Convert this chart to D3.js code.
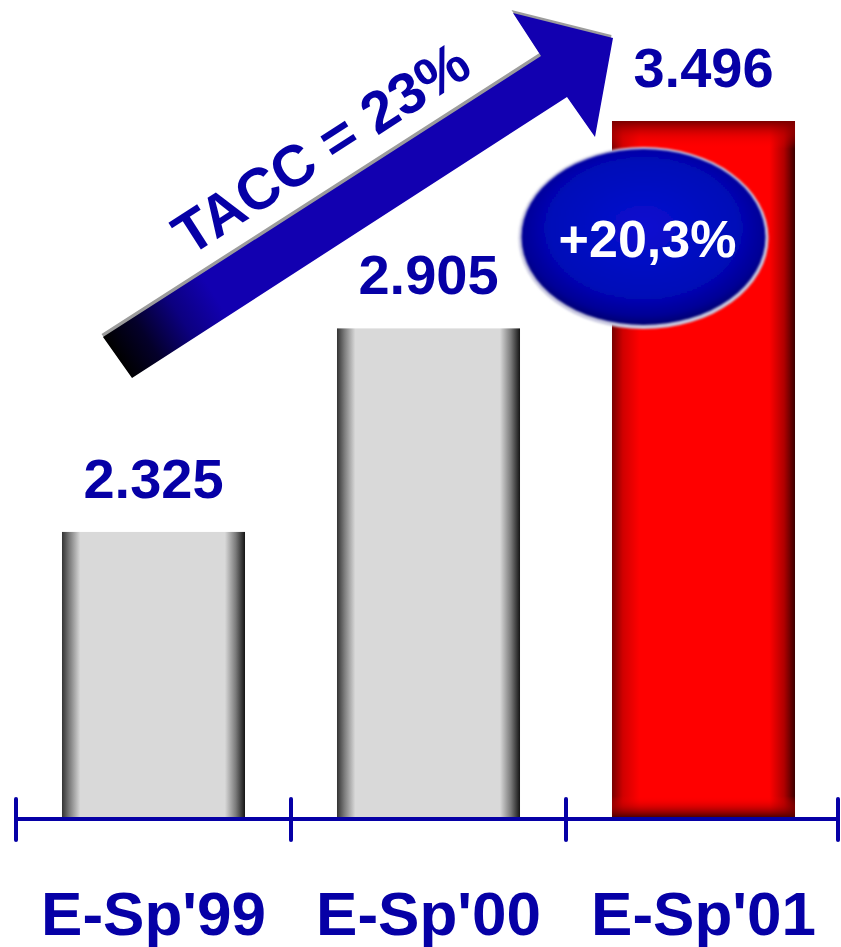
<!DOCTYPE html>
<html><head><meta charset="utf-8">
<script src="https://cdn.jsdelivr.net/npm/d3@7"></script>
<style>html,body{margin:0;padding:0;background:#fff;}svg{display:block;}</style>
</head><body>
<script>
const categories = ["E-Sp'99", "E-Sp'00", "E-Sp'01"];
const values = [2325, 2905, 3496];
const valueLabels = ["2.325", "2.905", "3.496"];
const highlight = [false, false, true];
const growthLabel = "+20,3%";
const cagrLabel = "TACC = 23%";

const W = 841, H = 947;
const svg = d3.select("body").append("svg").attr("width", W).attr("height", H);
const defs = svg.append("defs");
const font = "'Liberation Sans', Arial, sans-serif";
const navy = "#0600a6";

const x = d3.scaleBand().domain(categories).range([16, 841]).paddingInner(0.3345).paddingOuter(0.16725);
const y = d3.scaleLinear().domain([1507, 3496]).range([819, 121]);

// gradients
const gGray = defs.append("linearGradient").attr("id", "gray").attr("x1", 0).attr("x2", 1).attr("y1", 0).attr("y2", 0);
[[0, "#333333"], [0.04, "#7a7a7a"], [0.1, "#d9d9d9"], [0.89, "#d9d9d9"], [0.95, "#7a7a7a"], [1, "#141414"]]
  .forEach(([o, c]) => gGray.append("stop").attr("offset", o).attr("stop-color", c));
const gRed = defs.append("linearGradient").attr("id", "red").attr("x1", 0).attr("x2", 1).attr("y1", 0).attr("y2", 1e-6);
[[0, "#780000"], [0.06, "#d00000"], [0.15, "#ff0000"], [0.86, "#ff0000"], [0.94, "#b00000"], [1, "#3a0000"]]
  .forEach(([o, c]) => gRed.append("stop").attr("offset", o).attr("stop-color", c));
const gRedV = defs.append("linearGradient").attr("id", "redv").attr("x1", 0).attr("x2", 0).attr("y1", 0).attr("y2", 1);
[[0, "#7a0000", 1], [0.022, "#d00000", 0.45], [0.04, "#ff0000", 0], [0.97, "#ff0000", 0], [0.985, "#b00000", 0.5], [1, "#500000", 1]]
  .forEach(([o, c, a]) => gRedV.append("stop").attr("offset", o).attr("stop-color", c).attr("stop-opacity", a));

// bars
const base = y.range()[0] - 2;
const bars = svg.append("g");
bars.selectAll("rect.bar").data(values).join("rect").attr("class", "bar")
  .attr("x", (d, i) => x(categories[i])).attr("width", x.bandwidth())
  .attr("y", d => y(d)).attr("height", d => base - y(d))
  .attr("fill", (d, i) => highlight[i] ? "url(#red)" : "url(#gray)");
bars.selectAll("rect.ov").data(values.map((d, i) => ({ d, i })).filter(o => highlight[o.i])).join("rect").attr("class", "ov")
  .attr("x", o => x(categories[o.i])).attr("width", x.bandwidth())
  .attr("y", o => y(o.d)).attr("height", o => base - y(o.d))
  .attr("fill", "url(#redv)");

// value labels
svg.append("g").selectAll("text").data(values).join("text")
  .attr("x", (d, i) => x(categories[i]) + x.bandwidth() / 2)
  .attr("y", d => y(d) - 34)
  .attr("text-anchor", "middle").attr("font-family", font).attr("font-weight", "bold")
  .attr("font-size", 56).attr("fill", navy).text((d, i) => valueLabels[i]);

// axis
const axisY = y.range()[0];
const axisEnd = W - 3;
const ticks = d3.range(categories.length + 1).map(i => Math.min(axisEnd, x.range()[0] + i * x.step()));
const ax = svg.append("g").attr("stroke", navy).attr("stroke-width", 4).attr("stroke-linecap", "round");
ax.append("line").attr("x1", x.range()[0]).attr("x2", axisEnd).attr("y1", axisY).attr("y2", axisY).attr("stroke-linecap", "butt");
ax.selectAll("line.t").data(ticks).join("line").attr("class", "t")
  .attr("x1", d => d).attr("x2", d => d).attr("y1", axisY - 20).attr("y2", axisY + 21);

// category labels
svg.append("g").selectAll("text").data(categories).join("text")
  .attr("x", d => x(d) + x.bandwidth() / 2).attr("y", 935)
  .attr("text-anchor", "middle").attr("font-family", font).attr("font-weight", "bold")
  .attr("font-size", 62).attr("fill", navy).text(d => d);

// growth arrow (annotation)
const arrowPts = [[103, 337], [541, 56], [513, 13], [613, 38], [595, 137], [567, 97], [132, 378]];
const gArrow = defs.append("linearGradient").attr("id", "arrowg").attr("gradientUnits", "userSpaceOnUse")
  .attr("x1", 118).attr("y1", 358).attr("x2", 215).attr("y2", 296);
[[0, "#000000"], [0.3, "#04002a"], [0.65, "#0c0080"], [1, "#1200b0"]].forEach(([o, c]) => gArrow.append("stop").attr("offset", o).attr("stop-color", c));
svg.append("polygon").attr("points", arrowPts.map(p => [p[0] - 1.5, p[1] - 3].join(",")).join(" ")).attr("fill", "#9c9c9c");
svg.append("polygon").attr("points", arrowPts.map(p => p.join(",")).join(" ")).attr("fill", "url(#arrowg)");
svg.append("text").attr("transform", "translate(332,165) rotate(-32.8)")
  .attr("text-anchor", "middle").attr("font-family", font).attr("font-weight", "bold")
  .attr("font-size", 58).attr("fill", navy).text(cagrLabel);

// growth bubble
const gBub = defs.append("radialGradient").attr("id", "bub").attr("cx", "50%").attr("cy", "45%").attr("r", "55%");
[[0, "#0a10d0"], [0.7, "#0008b8"], [0.9, "#000096"], [1, "#000070"]].forEach(([o, c]) => gBub.append("stop").attr("offset", o).attr("stop-color", c));
const blur = defs.append("filter").attr("id", "soft").attr("x", "-10%").attr("y", "-10%").attr("width", "120%").attr("height", "120%");
blur.append("feGaussianBlur").attr("stdDeviation", 1.2);
const bx = x(categories[2]) + x.bandwidth() / 2 - 60, by = 237;
svg.append("ellipse").attr("cx", bx).attr("cy", by + 1).attr("rx", 125).attr("ry", 91).attr("fill", "#c8c8e0").attr("filter", "url(#soft)");
svg.append("ellipse").attr("cx", bx).attr("cy", by).attr("rx", 122).attr("ry", 88).attr("fill", "url(#bub)").attr("filter", "url(#soft)");
svg.append("text").attr("x", bx + 4).attr("y", by + 20).attr("text-anchor", "middle")
  .attr("font-family", font).attr("font-weight", "bold").attr("font-size", 52).attr("fill", "#fff").text(growthLabel);
</script>
</body></html>
